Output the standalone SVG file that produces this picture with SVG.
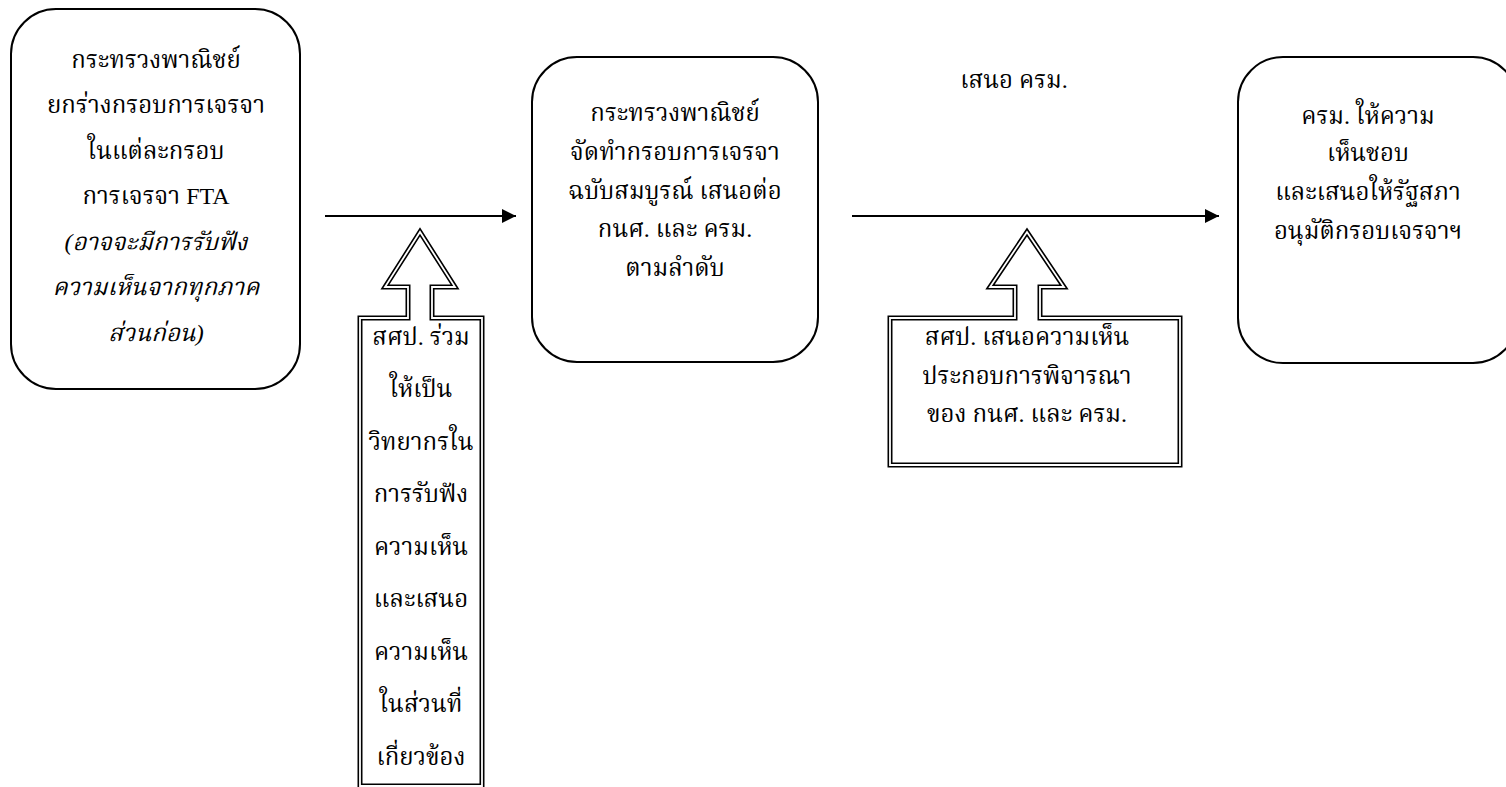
<svg xmlns="http://www.w3.org/2000/svg" width="1506" height="787" viewBox="0 0 1506 787">
<defs>
<style>
.bg{fill:#ffffff}
.box{fill:#ffffff;stroke:#000000;stroke-width:2}
.t{font-family:"Liberation Serif","Noto Serif Thai","Noto Sans Thai",serif;font-size:24px;fill:#000000;text-anchor:middle}
.it{font-style:italic}
.conn{stroke:#000000;stroke-width:2;fill:none}
.dblo{fill:#ffffff;stroke:#000000;stroke-width:5;stroke-linejoin:miter}
.dbli{fill:none;stroke:#ffffff;stroke-width:1.8;stroke-linejoin:miter}
</style>
<marker id="ah" viewBox="0 0 10 10" refX="10" refY="5" markerWidth="8" markerHeight="7" markerUnits="strokeWidth" orient="auto">
<path d="M0,0 L10,5 L0,10 Z" fill="#000000"/>
</marker>
</defs>
<rect class="bg" x="0" y="0" width="1506" height="787"/>
<g id="connectors">
<line class="conn" x1="325" y1="216" x2="516" y2="216" marker-end="url(#ah)"/>
<line class="conn" x1="852" y1="216" x2="1219" y2="216" marker-end="url(#ah)"/>
</g>
<g id="node-moc-draft">
<rect class="box" x="11" y="9" width="289" height="380" rx="45" ry="45"/>
<text class="t" x="156" y="68">กระทรวงพาณิชย์</text>
<text class="t" x="156" y="113">ยกร่างกรอบการเจรจา</text>
<text class="t" x="156" y="159">ในแต่ละกรอบ</text>
<text class="t" x="156" y="204">การเจรจา FTA</text>
<text class="t it" x="156" y="250">(อาจจะมีการรับฟัง</text>
<text class="t it" x="156" y="295">ความเห็นจากทุกภาค</text>
<text class="t it" x="156" y="341">ส่วนก่อน)</text>
</g>
<g id="node-moc-final">
<rect class="box" x="532" y="57" width="286" height="305" rx="45" ry="45"/>
<text class="t" x="675" y="121">กระทรวงพาณิชย์</text>
<text class="t" x="675" y="160">จัดทำกรอบการเจรจา</text>
<text class="t" x="675" y="199">ฉบับสมบูรณ์ เสนอต่อ</text>
<text class="t" x="675" y="237">กนศ. และ ครม.</text>
<text class="t" x="675" y="276">ตามลำดับ</text>
</g>
<g id="node-cabinet">
<rect class="box" x="1238" y="57" width="280" height="306" rx="45" ry="45"/>
<text class="t" x="1368" y="124">ครม. ให้ความ</text>
<text class="t" x="1368" y="161">เห็นชอบ</text>
<text class="t" x="1368" y="200">และเสนอให้รัฐสภา</text>
<text class="t" x="1368" y="239">อนุมัติกรอบเจรจาฯ</text>
</g>
<g id="label-cabinet">
<text class="t" x="1014" y="88">เสนอ ครม.</text>
</g>
<g id="node-osp-support">
<path class="dblo" d="M360 786 L360 318 L408 318 L408 287 L385 287 L420 232 L455 287 L432 287 L432 318 L482 318 L482 786 Z"/>
<path class="dbli" d="M360 786 L360 318 L408 318 L408 287 L385 287 L420 232 L455 287 L432 287 L432 318 L482 318 L482 786 Z"/>
<text class="t" x="421" y="345">สศป. ร่วม</text>
<text class="t" x="421" y="397">ให้เป็น</text>
<text class="t" x="421" y="450">วิทยากรใน</text>
<text class="t" x="421" y="502">การรับฟัง</text>
<text class="t" x="421" y="555">ความเห็น</text>
<text class="t" x="421" y="607">และเสนอ</text>
<text class="t" x="421" y="660">ความเห็น</text>
<text class="t" x="421" y="712">ในส่วนที่</text>
<text class="t" x="421" y="765">เกี่ยวข้อง</text>
</g>
<g id="node-osp-opinion">
<path class="dblo" d="M890 465 L890 318 L1015 318 L1015 287 L990 287 L1027 232 L1064 287 L1040 287 L1040 318 L1180 318 L1180 465 Z"/>
<path class="dbli" d="M890 465 L890 318 L1015 318 L1015 287 L990 287 L1027 232 L1064 287 L1040 287 L1040 318 L1180 318 L1180 465 Z"/>
<text class="t" x="1027" y="345">สศป. เสนอความเห็น</text>
<text class="t" x="1027" y="384">ประกอบการพิจารณา</text>
<text class="t" x="1027" y="422">ของ กนศ. และ ครม.</text>
</g>
</svg>
